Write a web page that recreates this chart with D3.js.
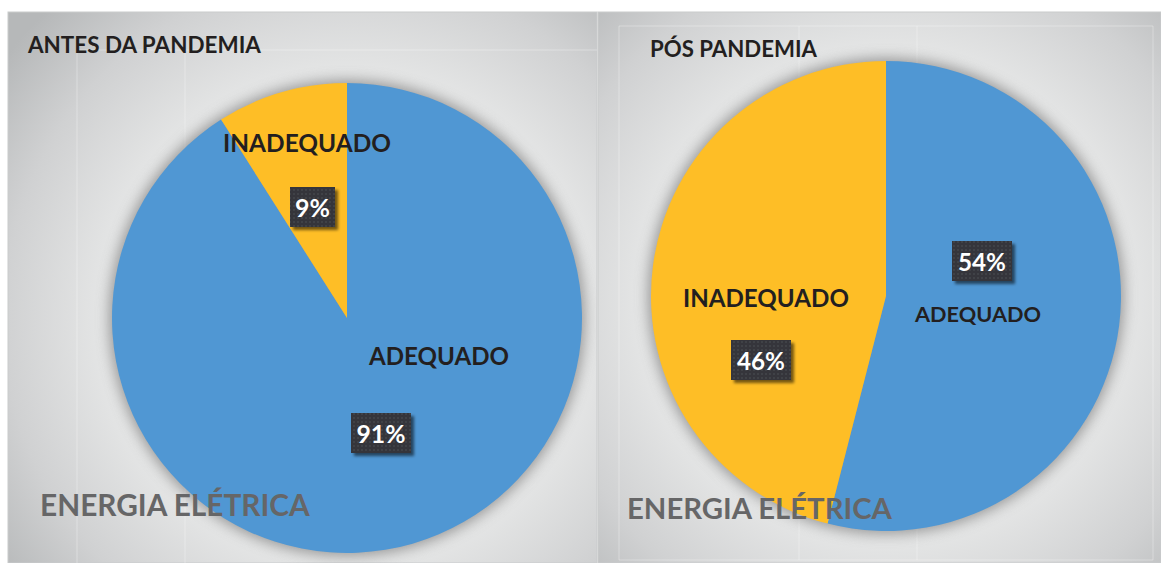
<!DOCTYPE html>
<html>
<head>
<meta charset="utf-8">
<script src="https://cdn.jsdelivr.net/npm/d3@7"></script>
<style>
  html, body { margin: 0; padding: 0; background: #ffffff; }
  svg { display: block; }
  text { font-family: Lato, "Open Sans", sans-serif; font-weight: 700; }
</style>
</head>
<body>
<svg id="chart" width="1161" height="563"></svg>
<script>
// ---- data ----
const panelTitles = ["ANTES DA PANDEMIA", "PÓS PANDEMIA"];
const categories = ["ADEQUADO", "INADEQUADO"];
const antesValues = [91, 9];
const posValues = [54, 46];
const footerText = "ENERGIA ELÉTRICA";

// ---- layout / style ----
const colors = d3.scaleOrdinal().domain(categories).range(["#5097d3", "#febe26"]);
const layouts = [
  { x: 8, y: 12, w: 589, h: 551, cx: 347, cy: 318, r: 235,
    title: { x: 28, y: 53, w: 233 }, footer: { x: 40, y: 516, w: 270 },
    grid: [[77, 50, 77, 563], [185, 50, 185, 563], [77, 50, 597, 50]],
    cat: { ADEQUADO: { x: 439, y: 365, w: 140 }, INADEQUADO: { x: 307, y: 152, w: 168 } },
    box: { ADEQUADO: { x: 381, y: 433, w: 60, tw: 49 }, INADEQUADO: { x: 312.5, y: 207, w: 45, tw: 35 } } },
  { x: 598, y: 12, w: 563, h: 551, cx: 886, cy: 296, r: 235,
    title: { x: 650, y: 57, w: 167 }, footer: { x: 627, y: 519, w: 265 },
    grid: [[619, 26, 1153, 26], [619, 26, 619, 560], [1153, 26, 1153, 560], [619, 560, 1153, 560], [799, 26, 799, 560], [917, 26, 917, 560]],
    cat: { ADEQUADO: { x: 978, y: 322, w: 126 }, INADEQUADO: { x: 766, y: 307, w: 166 } },
    box: { ADEQUADO: { x: 982, y: 261, w: 60, tw: 48 }, INADEQUADO: { x: 761, y: 360, w: 60, tw: 48 } } }
];
const seriesValues = [antesValues, posValues];

const svg = d3.select("#chart");
const defs = svg.append("defs");

// pie shadow
const sh = defs.append("filter").attr("id", "pieShadow").attr("x", "-30%").attr("y", "-30%").attr("width", "160%").attr("height", "160%");
sh.append("feGaussianBlur").attr("stdDeviation", 7);

// box shadow
const bs = defs.append("filter").attr("id", "boxShadow").attr("x", "-30%").attr("y", "-30%").attr("width", "160%").attr("height", "160%");
bs.append("feDropShadow").attr("dx", 3).attr("dy", 3).attr("stdDeviation", 1.6)
  .attr("flood-color", "#000").attr("flood-opacity", 0.55);

// dot pattern for label boxes
const pat = defs.append("pattern").attr("id", "dots").attr("width", 4).attr("height", 4).attr("patternUnits", "userSpaceOnUse");
pat.append("rect").attr("width", 4).attr("height", 4).attr("fill", "#35363a");
pat.append("circle").attr("cx", 2).attr("cy", 2).attr("r", 0.9).attr("fill", "#45474b");

function fitText(sel, target) {
  let fs = 20;
  sel.attr("font-size", fs);
  const len = sel.node().getComputedTextLength();
  fs = fs * target / len;
  sel.attr("font-size", fs);
}

layouts.forEach((L, i) => {
  const grad = defs.append("radialGradient").attr("id", "bg" + i)
    .attr("gradientUnits", "userSpaceOnUse")
    .attr("cx", L.cx).attr("cy", L.cy).attr("r", 430);
  grad.append("stop").attr("offset", 0).attr("stop-color", "#dcdddd");
  grad.append("stop").attr("offset", 0.56).attr("stop-color", "#e5e6e6");
  grad.append("stop").attr("offset", 0.8).attr("stop-color", "#d0d1d2");
  grad.append("stop").attr("offset", 1).attr("stop-color", "#b6b8b9");

  const g = svg.append("g");
  g.append("rect").attr("x", L.x).attr("y", L.y).attr("width", L.w).attr("height", L.h)
    .attr("fill", `url(#bg${i})`).attr("stroke", "#c9cbcc").attr("stroke-width", 1);

  // faint gridlines of plot area
  g.selectAll("line.grid").data(L.grid).join("line").attr("class", "grid")
    .attr("x1", d => d[0]).attr("y1", d => d[1]).attr("x2", d => d[2]).attr("y2", d => d[3])
    .attr("stroke", "#ffffff").attr("stroke-opacity", 0.32).attr("stroke-width", 1);

  const data = categories.map((c, k) => ({ cat: c, value: seriesValues[i][k] }));
  const pie = d3.pie().sort(null).value(d => d.value);
  const arcs = pie(data);
  const arc = d3.arc().innerRadius(0).outerRadius(L.r);

  const pg = g.append("g").attr("transform", `translate(${L.cx},${L.cy})`);
  pg.append("circle").attr("r", L.r + 3).attr("fill", "#656565").attr("opacity", 0.6)
    .attr("filter", "url(#pieShadow)");
  pg.selectAll("path.slice").data(arcs).join("path").attr("class", "slice")
    .attr("d", arc).attr("fill", d => colors(d.data.cat));

  // title
  const t = g.append("text").attr("x", L.title.x).attr("y", L.title.y)
    .attr("fill", "#231f20").text(panelTitles[i]);
  fitText(t, L.title.w);

  // footer
  const f = g.append("text").attr("x", L.footer.x).attr("y", L.footer.y)
    .attr("fill", "#666667").text(footerText);
  fitText(f, L.footer.w);

  // labels
  arcs.forEach(a => {
    const c = L.cat[a.data.cat];
    const ct = g.append("text").attr("x", c.x).attr("y", c.y).attr("text-anchor", "middle")
      .attr("fill", "#231f20").text(a.data.cat);
    fitText(ct, c.w);

    const b = L.box[a.data.cat];
    g.append("rect").attr("x", b.x - b.w / 2).attr("y", b.y - 20).attr("width", b.w).attr("height", 40)
      .attr("fill", "url(#dots)").attr("filter", "url(#boxShadow)");
    const pt = g.append("text").attr("x", b.x).attr("y", b.y).attr("text-anchor", "middle")
      .attr("dominant-baseline", "central").attr("fill", "#ffffff")
      .text(d3.format("d")(a.data.value) + "%");
    fitText(pt, b.tw);
  });
});
</script>
</body>
</html>
